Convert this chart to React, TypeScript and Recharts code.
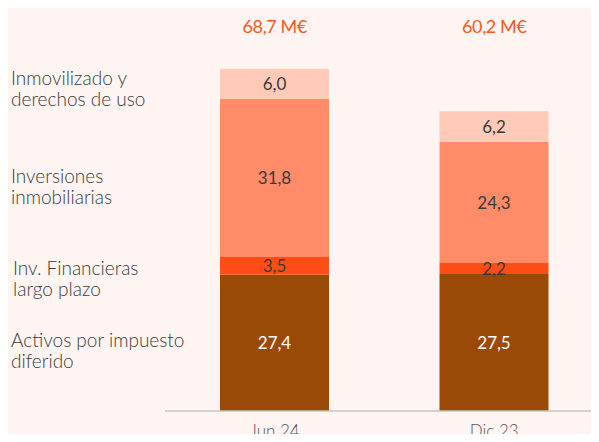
import { BarChart, Bar, XAxis, YAxis, LabelList } from 'recharts';

const periods = ['Jun 24', 'Dic 23'];
const activosDiferidos = [27.4, 27.5];
const invFinancieras = [3.5, 2.2];
const invInmobiliarias = [31.8, 24.3];
const inmovilizado = [6.0, 6.2];
const totals = ['68,7 M€', '60,2 M€'];

const seriesLabels = [
  { lines: ['Inmovilizado y', 'derechos de uso'], top: 67, left: 11 },
  { lines: ['Inversiones', 'inmobiliarias'], top: 165, left: 11 },
  { lines: ['Inv. Financieras', 'largo plazo'], top: 257, left: 13 },
  { lines: ['Activos por impuesto', 'diferido'], top: 329, left: 11 },
];

const data = periods.map((p, i) => ({
  period: p,
  total: totals[i],
  diferido: activosDiferidos[i],
  financieras: invFinancieras[i],
  inmobiliarias: invInmobiliarias[i],
  inmovilizado: inmovilizado[i],
}));

const FONT = 'Lato, sans-serif';
const fmt = (v: any) => Number(v).toFixed(1).replace('.', ',');

const BottomTick = (props: any) => {
  const { x, payload } = props;
  return (
    <text x={x} y={433} textAnchor="middle" dominantBaseline="middle" fill="#555" fontSize={17} fontWeight={300} fontFamily={FONT}>
      {payload.value}
    </text>
  );
};

const TopTick = (props: any) => {
  const { x, payload, index } = props;
  return (
    <text x={x} y={28} textAnchor="middle" dominantBaseline="middle" fill="#FF5722" fontSize={18} letterSpacing={-0.4} fontFamily={FONT}>
      {data[index]?.total ?? payload.value}
    </text>
  );
};

export default function App() {
  return (
    <div style={{ margin: -8, width: 599, height: 442, overflow: 'hidden', position: 'relative', background: '#FEF4F1' }}>
      <BarChart width={604} height={442} data={data} margin={{ top: 0, right: 0, bottom: 0, left: 165 }}>
        <XAxis xAxisId="top" dataKey="period" orientation="top" height={37.5} axisLine={false} tickLine={false} tick={<TopTick />} />
        <XAxis dataKey="period" height={31} axisLine={{ stroke: '#c4c4c4', strokeWidth: 1.5 }} tickLine={false} tick={<BottomTick />} />
        <YAxis hide domain={[0, 75]} />
        <Bar dataKey="diferido" stackId="a" fill="#9A4A06" barSize={109} isAnimationActive={false}>
          <LabelList dataKey="diferido" position="center" fill="#fff" fontSize={17} fontFamily={FONT} formatter={fmt} />
        </Bar>
        <Bar dataKey="financieras" stackId="a" fill="#FF4D17" barSize={109} isAnimationActive={false}>
          <LabelList dataKey="financieras" position="center" fill="#3a3a3a" fontSize={17} fontFamily={FONT} formatter={fmt} />
        </Bar>
        <Bar dataKey="inmobiliarias" stackId="a" fill="#FF8B69" barSize={109} isAnimationActive={false}>
          <LabelList dataKey="inmobiliarias" position="center" fill="#3a3a3a" fontSize={17} fontFamily={FONT} formatter={fmt} />
        </Bar>
        <Bar dataKey="inmovilizado" stackId="a" fill="#FFCAB8" barSize={109} isAnimationActive={false}>
          <LabelList dataKey="inmovilizado" position="center" fill="#3a3a3a" fontSize={17} fontFamily={FONT} formatter={fmt} />
        </Bar>
      </BarChart>
      {seriesLabels.map((s) => (
        <div
          key={s.lines[0]}
          style={{ position: 'absolute', top: s.top, left: s.left, fontFamily: FONT, fontSize: 19, fontWeight: 300, lineHeight: '21px', color: '#3a3a3a' }}
        >
          {s.lines.map((l) => (
            <div key={l}>{l}</div>
          ))}
        </div>
      ))}
    </div>
  );
}
